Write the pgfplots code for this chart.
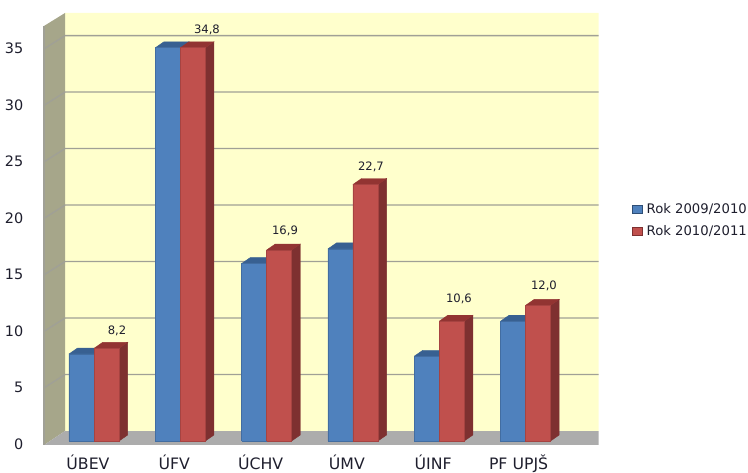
\documentclass[border=0pt]{standalone}
\usepackage{fontspec}
\setmainfont{DejaVu Sans}
\usepackage{pgfplots}
\pgfplotsset{compat=1.18}
\definecolor{wall}{RGB}{255,255,204}
\definecolor{sidewall}{RGB}{166,166,138}
\definecolor{floorgray}{RGB}{172,172,172}
\definecolor{gridc}{RGB}{160,160,150}
\definecolor{txt}{RGB}{30,30,45}
\definecolor{bluef}{RGB}{79,129,189}
\definecolor{bluet}{RGB}{56,96,145}
\definecolor{blues}{RGB}{46,78,118}
\definecolor{redf}{RGB}{192,80,77}
\definecolor{redt}{RGB}{146,52,50}
\definecolor{reds}{RGB}{126,48,48}

% back wall starts at x=-0.336, y offset 0.88 from the front plane
\newcommand{\gridline}[1]{%
  \pgfmathsetmacro{\gb}{#1+0.88}\pgfmathsetmacro{\gf}{#1-0.3}%
  \edef\tmp{\noexpand\addplot[forget plot,draw=gridc,line width=1pt] coordinates {(-0.5794,\gf) (-0.336,\gb) (5.848,\gb)};}\tmp}
% category, left edge offset, value, colours front/top/side
\newcommand{\tdbar}[6]{%
  \pgfmathsetmacro{\xa}{#1+#2}\pgfmathsetmacro{\xb}{\xa+0.29}%
  \pgfmathsetmacro{\xc}{\xb+0.1}\pgfmathsetmacro{\xd}{\xa+0.1}%
  \pgfmathsetmacro{\yt}{#3+0.53}%
  \edef\tmp{\noexpand\addplot[forget plot,fill=#6,draw=#6,line width=0.3pt] coordinates {(\xb,0) (\xc,0.53) (\xc,\yt) (\xb,#3) (\xb,0)};
    \noexpand\addplot[forget plot,fill=#5,draw=#5,line width=0.3pt] coordinates {(\xa,#3) (\xd,\yt) (\xc,\yt) (\xb,#3) (\xa,#3)};
    \noexpand\addplot[forget plot,fill=#4,draw=#6!40!#4,line width=0.5pt] coordinates {(\xa,0) (\xb,0) (\xb,#3) (\xa,#3) (\xa,0)};}\tmp}

\begin{document}
\begin{tikzpicture}[x=0.75pt,y=0.75pt]
\useasboundingbox (-44,-28) rectangle (704,445);
\begin{axis}[
  at={(0,0)}, anchor=south west,
  scale only axis, width=416pt, height=324pt,
  xmin=-0.5794, xmax=5.848, ymin=-0.354, ymax=37.88,
  axis line style={draw=none}, major tick length=0pt,
  clip=false,
  xtick={-0.07,0.93,1.93,2.93,3.93,4.92},
  xticklabels={ÚBEV,ÚFV,ÚCHV,ÚMV,ÚINF,PF UPJŠ},
  ytick={0,5,10,15,20,25,30,35},
  /pgf/number format/assume math mode=true,
  tick label style={text=txt},
  xticklabel style={font=\fontsize{11.8pt}{13pt}\selectfont,anchor=base,yshift=-18.4pt},
  yticklabel style={font=\fontsize{10.8pt}{12pt}\selectfont,anchor=east,xshift=-12pt,yshift=-2.2pt},
  legend style={at={(1.0515,0.52)},anchor=west,draw=none,fill=none,
    font=\fontsize{9.9pt}{11pt}\selectfont,text=txt,row sep=8pt,
    nodes={inner sep=0pt,anchor=west}},
  legend cell align=left,
  legend image code/.code={\draw[#1] (0pt,-3pt) rectangle (7.5pt,3pt);\path (11pt,0pt);},
]
% walls and floor
\addplot[forget plot,fill=wall,draw=none] coordinates {(-0.336,0.88) (5.848,0.88) (5.848,37.88) (-0.336,37.88) (-0.336,0.88)};
\addplot[forget plot,fill=sidewall,draw=none] coordinates {(-0.5794,-0.354) (-0.336,0.88) (-0.336,37.88) (-0.5794,36.73) (-0.5794,-0.354)};
\addplot[forget plot,fill=floorgray,draw=none] coordinates {(-0.5794,-0.354) (-0.336,0.88) (5.848,0.88) (5.848,-0.354) (-0.5794,-0.354)};
\addplot[forget plot,draw=gridc,line width=1pt] coordinates {(-0.5794,36.73) (-0.5794,-0.354)};
\gridline{5}\gridline{10}\gridline{15}\gridline{20}\gridline{25}\gridline{30}\gridline{35}
% bars
\tdbar{0}{-0.29}{7.7}{bluef}{bluet}{blues}
\tdbar{0}{0}{8.2}{redf}{redt}{reds}
\tdbar{1}{-0.29}{34.8}{bluef}{bluet}{blues}
\tdbar{1}{0}{34.8}{redf}{redt}{reds}
\tdbar{2}{-0.29}{15.7}{bluef}{bluet}{blues}
\tdbar{2}{0}{16.9}{redf}{redt}{reds}
\tdbar{3}{-0.29}{17.0}{bluef}{bluet}{blues}
\tdbar{3}{0}{22.7}{redf}{redt}{reds}
\tdbar{4}{-0.29}{7.5}{bluef}{bluet}{blues}
\tdbar{4}{0}{10.6}{redf}{redt}{reds}
\tdbar{5}{-0.29}{10.6}{bluef}{bluet}{blues}
\tdbar{5}{0}{12.0}{redf}{redt}{reds}
% value labels
\begin{scope}[every node/.style={font=\fontsize{8.7pt}{10pt}\selectfont,text=txt,inner sep=0pt}]
\node at (axis cs:0.2665,9.73) {8,2};
\node at (axis cs:1.309,36.37) {34,8};
\node at (axis cs:2.213,18.58) {16,9};
\node at (axis cs:3.209,24.25) {22,7};
\node at (axis cs:4.229,12.56) {10,6};
\node at (axis cs:5.214,13.72) {12,0};
\end{scope}
\addlegendimage{fill=bluef,draw=blues}
\addlegendentry{Rok 2009/2010}
\addlegendimage{fill=redf,draw=reds}
\addlegendentry{Rok 2010/2011}
\end{axis}
\end{tikzpicture}
\end{document}
